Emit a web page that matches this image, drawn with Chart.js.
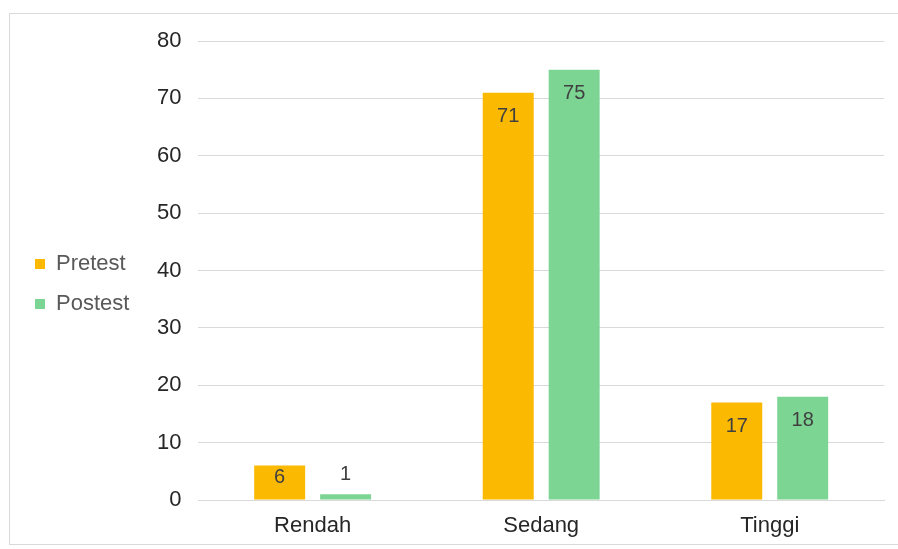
<!DOCTYPE html>
<html>
<head>
<meta charset="utf-8">
<script src="https://cdn.jsdelivr.net/npm/chart.js@4"></script>
<style>
body { margin: 0; background: #fff; }
#box { position: absolute; left: 9px; top: 13px; width: 900px; height: 530px; border: 1px solid #d9d9d9; }
#chart { display: block; }
</style>
</head>
<body>
<div id="box"><canvas id="chart" width="888" height="530"></canvas></div>
<script>
const categories = ["Rendah", "Sedang", "Tinggi"]
const pretest = [6, 71, 17]
const postest = [1, 75, 18]
const yTicks = [0, 10, 20, 30, 40, 50, 60, 70, 80]

const font = "'Liberation Sans', Arial, sans-serif"

// values written on the bars, like the office chart does it
const barLabels = {
	id: 'barLabels',
	afterDatasetsDraw(chart) {
		let ctx = chart.ctx
		ctx.save()
		ctx.font = "20px " + font
		ctx.fillStyle = "#404040"
		ctx.textAlign = "center"
		ctx.textBaseline = "middle"
		chart.data.datasets.forEach((ds, i) => {
			chart.getDatasetMeta(i).data.forEach((bar, j) => {
				let top = bar.y, bottom = bar.base
				let h = bottom - top
				let y
				if (h < 20) {
					y = top - 20
				} else {
					y = Math.min(top + 24, (top + bottom) / 2 - 5)
				}
				ctx.fillText(ds.data[j], bar.x, y)
			})
		})
		ctx.restore()
	}
}

let chart = new Chart(document.getElementById("chart"), {
	type: 'bar',
	data: {
		labels: categories,
		datasets: [{
			label: 'Pretest',
			data: pretest,
			backgroundColor: '#FBB901',
			categoryPercentage: 0.577,
			barPercentage: 0.773,
		}, {
			label: 'Postest',
			data: postest,
			backgroundColor: '#7DD593',
			categoryPercentage: 0.577,
			barPercentage: 0.773,
		}],
	},
	options: {
		animation: false,
		responsive: false,
		layout: {
			padding: { top: 10, right: 14, bottom: 0, left: 7 },
		},
		plugins: {
			tooltip: { enabled: false },
			legend: {
				position: 'left',
				labels: {
					boxWidth: 10,
					boxHeight: 10,
					padding: 18,
					color: '#595959',
					font: { family: font, size: 22 },
				},
			},
		},
		scales: {
			x: {
				afterFit: s => { s.height = 44 },
				grid: { display: false, drawTicks: false },
				border: { color: '#d9d9d9' },
				ticks: { color: '#262626', padding: 13, font: { family: font, size: 22 } },
			},
			y: {
				min: 0,
				max: 80,
				afterBuildTicks: s => { s.ticks = yTicks.map(v => ({ value: v })) },
				afterFit: s => {
					s.width = 59
					s.paddingTop = 27
					s.paddingBottom = 0
				},
				grid: { color: '#d9d9d9', drawTicks: false },
				border: { display: false },
				ticks: { color: '#262626', padding: 17, font: { family: font, size: 22 } },
			},
		},
	},
	plugins: [barLabels],
})
</script>
</body>
</html>
